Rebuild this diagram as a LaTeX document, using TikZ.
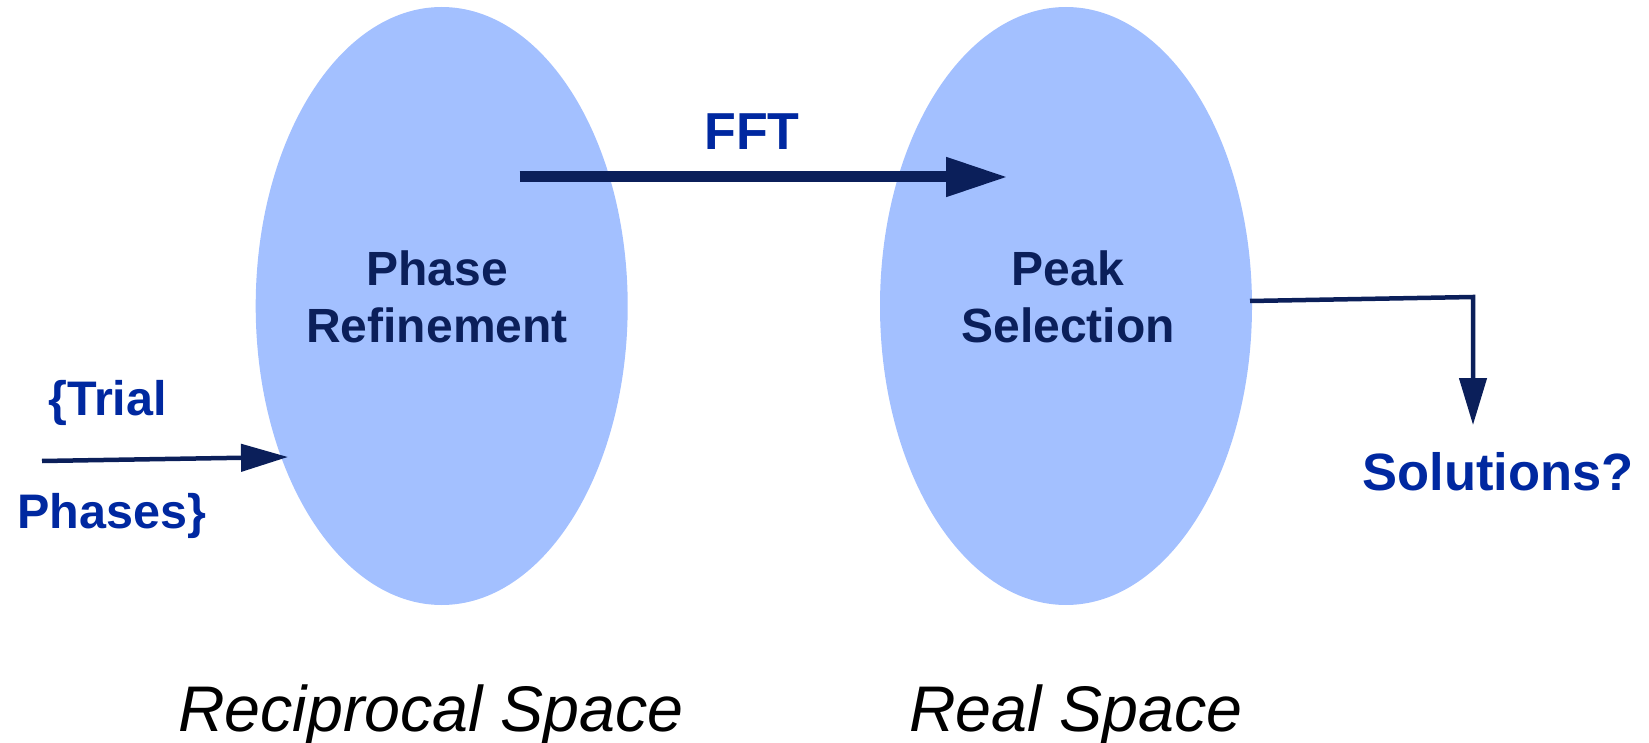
\documentclass[tikz,border=0pt]{standalone}
\usepackage{fontspec}
\setmainfont{Liberation Sans}
\usetikzlibrary{shapes.geometric,arrows.meta}
\definecolor{ellfill}{HTML}{A3C0FF}
\definecolor{navy}{HTML}{0B1F5A}
\definecolor{labblue}{HTML}{0028A0}
\tikzset{
  space/.style={ellipse, fill=ellfill, draw=none, inner sep=0pt, minimum width=372pt, minimum height=598pt},
  inlabel/.style={font=\bfseries\fontsize{48}{57}\selectfont, text=navy, align=center, inner sep=0pt},
  bluelabel/.style={font=\bfseries\fontsize{#1}{#1}\selectfont, text=labblue, inner sep=0pt},
  caption/.style={font=\itshape\fontsize{64.5}{64.5}\selectfont, text=black, inner sep=0pt},
  thinarrow/.style={draw=navy, line width=4.5pt, -{Triangle[length=47pt, width=27pt]}},
}
\begin{document}
\begin{tikzpicture}[x=1pt, y=-1pt]
\useasboundingbox (0,0) rectangle (1649,743);
\node[space] (recip) at (441.7,306) {};
\node[space] (real) at (1066,306) {};
\node[inlabel] (phref) at (437,297) {Phase\\Refinement};
\node[inlabel] (peaksel) at (1068,297) {Peak\\Selection};
\node[bluelabel=52, anchor=base] (fft) at (752,150) {FFT};
\node[bluelabel=48.5, anchor=base west] (trial) at (48,415) {\{Trial};
\node[bluelabel=48.5, anchor=base west] (phases) at (17,528) {Phases\}};
\node[bluelabel=52.5, anchor=base] (sol) at (1498,490) {Solutions?};
\node[caption, anchor=base] (reccap) at (431,731) {Reciprocal Space};
\node[caption, anchor=base] (realcap) at (1076,731) {Real Space};
% connectors
\coordinate (fftstart) at (519.5,177);
\coordinate (fftend) at (1008,177);
\draw[draw=navy, line width=11pt, -{Triangle[length=62pt, width=37pt]}] (fftstart) -- (fftend);
\coordinate (trialstart) at (42,461);
\coordinate (trialend) at (288,457);
\draw[thinarrow] (trialstart) -- (trialend);
\coordinate (outstart) at (1250,301);
\coordinate (outcorner) at (1473,297);
\coordinate (outend) at (1473,425);
\draw[thinarrow] (outstart) -- (outcorner) -- (outend);
\end{tikzpicture}
\end{document}
